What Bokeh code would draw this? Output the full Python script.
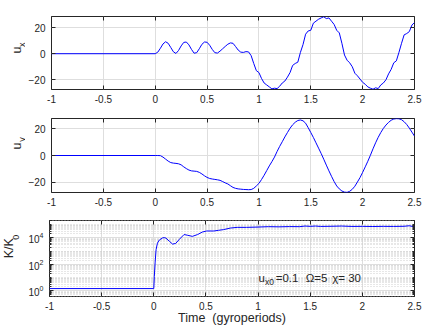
import math
from bokeh.plotting import figure
from bokeh.layouts import column, row
from bokeh.core.properties import value
from bokeh.models import (Label, FixedTicker, NumeralTickFormatter, LinearAxis, LogAxis)
from bokeh.embed import file_html
from bokeh.resources import INLINE

# ---------------- data ----------------
t_u = [-1.0] + [round(0.025 * i, 3) for i in range(101)]

ux = [0.0,
      0.0, 1.2, 4.2, 7.5, 9.2, 8.0, 4.8, 1.5, 0.2, 2.5,
      6.0, 8.7, 9.0, 6.8, 3.3, 0.4, 0.8, 3.8, 7.2, 9.0,
      8.8, 6.5, 3.3, 0.8, 0.5, 2.0, 3.8, 5.6, 7.3, 8.3,
      8.0, 5.5, 2.8, 1.2, 1.0, 1.6, 1.4, -1.5, -7.5, -13.0,
      -14.5, -19.0, -22.5, -24.0, -25.5, -27.0, -26.5, -26.8, -25.0, -22.5,
      -21.0, -18.0, -14.5, -9.0, -7.5, -6.5, 1.0, 7.0, 15.0, 17.5,
      18.0, 23.5, 25.0, 26.5, 27.5, 28.4, 27.0, 27.5, 25.0, 22.5,
      18.0, 16.0, 8.0, -1.0, -5.0, -7.0, -10.0, -15.0, -17.0, -19.5,
      -22.0, -23.5, -25.5, -26.5, -27.3, -26.2, -26.8, -24.0, -22.5, -20.0,
      -15.5, -12.0, -7.0, -5.5, 1.0, 8.0, 14.5, 15.5, 17.0, 22.0,
      24.0]

uy = [0.0,
      0.0, 0.0, -0.1, -1.2, -2.7, -4.2, -5.3, -5.7, -5.9, -6.2,
      -7.0, -8.5, -9.8, -10.9, -11.5, -11.7, -11.9, -12.6, -13.8, -15.2,
      -16.4, -17.2, -17.6, -17.9, -18.2, -18.6, -19.5, -20.5, -21.3, -22.6,
      -23.9, -24.6, -25.0, -25.2, -25.4, -25.5, -25.6, -25.5, -24.6, -22.8,
      -20.9, -18.0, -14.8, -11.3, -7.8, -4.6, -1.2, 3.0, 6.8, 10.3,
      13.9, 17.2, 20.4, 23.0, 24.9, 26.2, 26.6, 26.0, 24.2, 20.8,
      17.2, 13.5, 9.5, 5.5, 1.5, -2.8, -7.2, -11.5, -15.6, -19.5,
      -22.8, -25.0, -26.6, -27.4, -27.6, -26.8, -25.3, -23.0, -19.8, -16.5,
      -12.6, -8.5, -4.3, 0.2, 5.0, 9.5, 13.6, 17.2, 20.3, 22.8,
      24.8, 26.4, 27.3, 27.6, 27.5, 26.8, 25.3, 23.2, 20.5, 17.5,
      14.5]

t_k = [-1.0, 0.0, 0.005, 0.013, 0.022, 0.035, 0.054, 0.085, 0.1, 0.117,
       0.149, 0.18, 0.21, 0.244, 0.29, 0.32, 0.37, 0.42, 0.465, 0.506,
       0.576, 0.62, 0.67, 0.734, 0.80, 0.89, 0.99, 1.1, 1.2, 1.3,
       1.4, 1.45, 1.5, 1.55, 1.6, 1.7, 1.8, 1.9, 2.0, 2.1,
       2.2, 2.3, 2.4, 2.45, 2.5]
k_ratio = [1.5, 1.5, 12, 150, 1300, 4000, 7000, 1.0e4, 1.05e4, 9.5e3,
           5.6e3, 3.4e3, 3.8e3, 7.6e3, 1.78e4, 1.6e4, 1.3e4, 1.78e4, 2.75e4, 3.3e4,
           3.3e4, 3.7e4, 4.2e4, 5.5e4, 6.2e4, 6.2e4, 6.5e4, 7.0e4, 6.8e4, 7.1e4,
           7.0e4, 7.8e4, 7.4e4, 7.8e4, 7.3e4, 7.5e4, 7.8e4, 7.3e4, 7.4e4, 7.2e4,
           7.4e4, 7.3e4, 7.5e4, 8.2e4, 6.8e4]

x_ticks = [-1, -0.5, 0, 0.5, 1, 1.5, 2, 2.5]
u_ticks = [-20, 0, 20]
k_ticks = [1, 100, 10000]
k_minor = [m * 10.0 ** e for e in range(-1, 6) for m in range(1, 10)
           if m * 10.0 ** e not in k_ticks]

# ---------------- styling ----------------
FONT = "Liberation Sans"
AX = "#262626"
GRID = "#dedede"
LINE = "#0000ff"
LW = 1.0
TOTAL_W = 436
STRIP_W = 25
MAIN_W = TOTAL_W - STRIP_W
LB, RB = 46 - STRIP_W, 22


def style_axis(ax, ticker, label=True):
    ax.ticker = ticker
    ax.axis_line_color = None
    ax.major_tick_in = 4
    ax.major_tick_out = 0
    ax.major_tick_line_color = AX
    ax.major_tick_line_width = 1
    ax.minor_tick_line_color = None
    if label:
        ax.major_label_text_font = FONT
        ax.major_label_text_font_size = "10px"
        ax.major_label_text_color = AX
        ax.major_label_standoff = 5
    else:
        ax.major_label_text_font_size = "0px"
        ax.major_label_standoff = 0
        ax.major_label_text_alpha = 0


def make_fig(height, top, bottom, y_range, ylog=False):
    p = figure(width=MAIN_W, height=height, x_range=(-1, 2.5), y_range=y_range,
               y_axis_type="log" if ylog else "linear",
               output_backend="svg", toolbar_location=None,
               min_border_left=LB, min_border_right=RB,
               min_border_top=top, min_border_bottom=bottom)
    p.outline_line_color = AX
    p.outline_line_width = 1
    p.background_fill_color = "white"
    p.border_fill_color = "white"
    xt = FixedTicker(ticks=x_ticks)
    if ylog:
        yt = FixedTicker(ticks=k_ticks, minor_ticks=k_minor)
    else:
        yt = FixedTicker(ticks=u_ticks)
    bottom_ax = p.below[0]
    left_ax = p.left[0]
    style_axis(bottom_ax, xt)
    bottom_ax.formatter = NumeralTickFormatter(format="0.[0]")
    style_axis(left_ax, yt)
    left_ax.major_label_standoff = 6
    top_ax = LinearAxis()
    style_axis(top_ax, xt, label=False)
    p.add_layout(top_ax, "above")
    right_ax = LogAxis() if ylog else LinearAxis()
    style_axis(right_ax, yt, label=False)
    p.add_layout(right_ax, "right")
    if ylog:
        for ax in (left_ax, right_ax):
            ax.minor_tick_in = 2
            ax.minor_tick_out = 0
            ax.minor_tick_line_color = AX
    p.xgrid.grid_line_color = GRID
    p.ygrid.grid_line_color = GRID
    if ylog:
        p.ygrid.minor_grid_line_color = "#cfcfcf"
        p.ygrid.minor_grid_line_dash = "1 2"
    return p, bottom_ax


def make_strip(height, xs, ys, texts, sizes):
    s = figure(width=STRIP_W, height=height, x_range=(0, STRIP_W), y_range=(0, height),
               output_backend="svg", toolbar_location=None,
               x_axis_location=None, y_axis_location=None,
               min_border=0)
    s.outline_line_color = None
    s.xgrid.visible = False
    s.ygrid.visible = False
    s.background_fill_color = "white"
    s.border_fill_color = "white"
    for x, y, t, fs in zip(xs, ys, texts, sizes):
        s.text(x=[x], y=[y], text=[t], angle=math.pi / 2,
               text_font=value(FONT), text_font_size=value(fs), text_color=AX,
               text_align="center", text_baseline="middle")
    return s


def add_text(p, x, y, text, size="11.5px", align="left", baseline="alphabetic"):
    p.add_layout(Label(x=x, y=y, text=text,
                       text_font=FONT, text_font_size=size, text_color=AX,
                       text_align=align, text_baseline=baseline))


H1, H2, H3 = 118, 102, 107

# panel 1: u_x
p1, _ = make_fig(H1, 16, 29, (-27.5, 28.6))
p1.line(t_u, ux, line_color=LINE, line_width=LW)
s1 = make_strip(H1, [16, 21], [63.8, 72.5], ["u", "x"], ["12.5px", "9px"])

# panel 2: u_y
p2, _ = make_fig(H2, 0, 28, (-27.7, 27.7))
p2.line(t_u, uy, line_color=LINE, line_width=LW)
s2 = make_strip(H2, [16.5, 21], [64.2, 73.0], ["u", "y"], ["12.5px", "9px"])

# panel 3: K/K0
p3, xb3 = make_fig(H3, 0, 30, (10 ** -0.42, 10 ** 5.31), ylog=True)
p3.line(t_k, k_ratio, line_color=LINE, line_width=LW)
s3 = make_strip(H3, [8.5, 15.5], [68, 83.5], ["K/K", "0"], ["12.5px", "9px"])
xb3.axis_label = "Time\u00a0 (gyroperiods)"
xb3.axis_label_text_font = FONT
xb3.axis_label_text_font_size = "12.5px"
xb3.axis_label_text_font_style = "normal"
xb3.axis_label_text_color = AX
xb3.axis_label_standoff = -2

# annotation
add_text(p3, 1.004, 10 ** 0.952, "u")
add_text(p3, 1.067, 10 ** 0.654, "x0", size="8.5px")
add_text(p3, 1.169, 10 ** 0.952, "=0.1")
add_text(p3, 1.457, 10 ** 0.952, "\u03a9=5")
add_text(p3, 1.711, 10 ** 0.952, "\u03c7= 30")

layout = column(row(s1, p1, spacing=0), row(s2, p2, spacing=0), row(s3, p3, spacing=0),
                spacing=0)
open("out.html", "w").write(file_html(layout, INLINE))
